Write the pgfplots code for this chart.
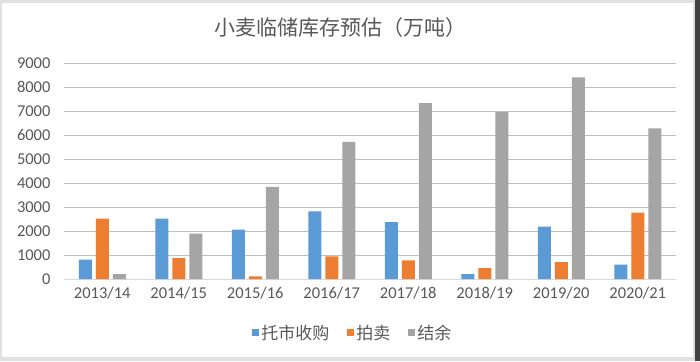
\documentclass[border=0pt]{standalone}
\usepackage{pgfplots}
\pgfplotsset{compat=1.18}
\usepackage{fontspec}
\setmainfont{Carlito}
\newfontfamily\cjk{Noto Sans CJK SC}
\definecolor{cblue}{HTML}{5B9BD5}
\definecolor{corange}{HTML}{ED7D31}
\definecolor{cgray}{HTML}{A5A5A5}
\definecolor{grid}{HTML}{D9D9D9}
\definecolor{txt}{HTML}{595959}
\begin{document}
\begin{tikzpicture}[x=1pt,y=1pt]
\fill[black!12] (0,0) rectangle (700,361);
\fill[white] (2,4) rectangle (693,358);
\fill[black!75] (695,0) rectangle (700,361);
\node[font=\cjk\fontsize{21}{23}\selectfont, text=txt] at (340,333) {小麦临储库存预估（万吨）};
\begin{axis}[
  at={(64pt,82pt)}, anchor=south west,
  scale only axis, width=612pt, height=216pt,
  ymin=0, ymax=9000, ytick={0,1000,...,9000},
  xmin=-0.5, xmax=7.5,
  xtick={0,...,7},
  xticklabels={2013/14,2014/15,2015/16,2016/17,2017/18,2018/19,2019/20,2020/21},
  ybar=4pt, bar width=13pt,
  ymajorgrids, xmajorgrids=false, grid style={grid, line width=0.8pt},
  axis x line*=bottom, axis y line*=left,
  x axis line style={grid, line width=0.8pt, -},
  y axis line style={draw=none},
  major tick length=0pt,
  tick label style={text=txt, font=\fontsize{16.5}{18}\selectfont},
  /pgf/number format/assume math mode=true,
  /pgf/number format/1000 sep={},
  yticklabel style={xshift=-10pt},
  xticklabel style={yshift=-5pt},
  legend columns=3,
  legend style={at={(0.472,-0.25)}, anchor=center, draw=none, fill=none,
    font=\cjk\fontsize{17}{19}\selectfont, text=txt,
    /tikz/every even column/.append style={column sep=16pt}},
  legend image code/.code={\fill[#1] (0pt,-3.5pt) rectangle (7pt,3.5pt);},
  clip=false,
]
\addplot[fill=cblue, draw=none] coordinates {(0,804) (1,2513) (2,2054) (3,2818) (4,2375) (5,208) (6,2180) (7,596)};
\addplot[fill=corange, draw=none] coordinates {(0,2513) (1,875) (2,111) (3,944) (4,775) (5,458) (6,708) (7,2763)};
\addplot[fill=cgray, draw=none] coordinates {(0,208) (1,1888) (2,3835) (3,5715) (4,7333) (5,6958) (6,8400) (7,6275)};
\legend{托市收购,拍卖,结余}
\end{axis}
\end{tikzpicture}
\end{document}
